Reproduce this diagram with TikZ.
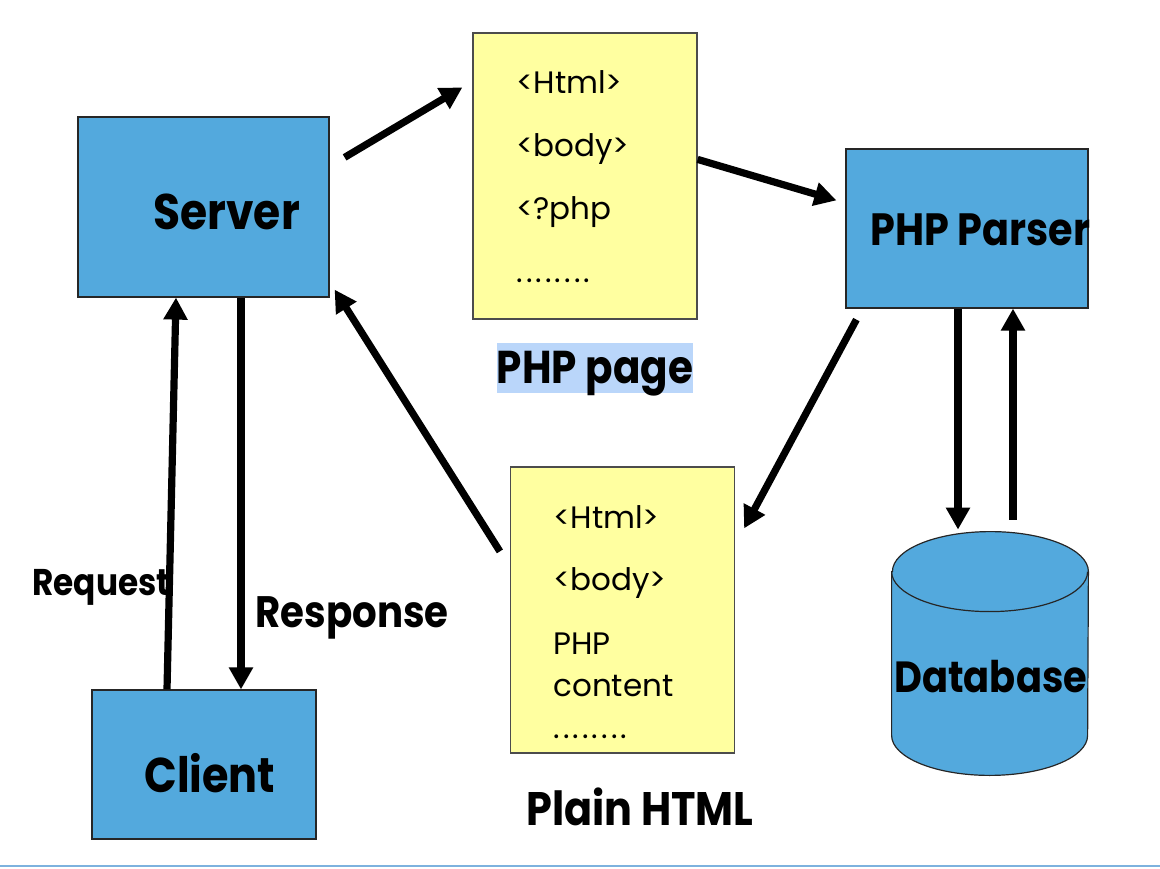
\documentclass[tikz,border=0pt]{standalone}
\usepackage{fontspec}
\setmainfont{Poppins}[BoldFeatures={FakeStretch=0.88}]
\usetikzlibrary{arrows.meta,positioning}
\definecolor{boxblue}{RGB}{83,169,221}
\definecolor{pageyellow}{RGB}{255,255,160}
\definecolor{markblue}{RGB}{186,214,250}
\definecolor{rulecolor}{RGB}{125,178,222}
\newcommand{\moredots}{{\addfontfeature{LetterSpace=10}........}}

\begin{document}
\begin{tikzpicture}[x=0.5pt,y=0.5pt,
		bluebox/.style={draw=black!85, line width=0.6pt, fill=boxblue, inner sep=0pt},
		pagebox/.style={draw=black!70, line width=0.6pt, fill=pageyellow, inner sep=0pt, minimum width=112pt, minimum height=143pt},
		bigtext/.style={font=\bfseries\fontsize{23.5}{28}\selectfont, inner sep=0pt},
		midtext/.style={font=\bfseries\fontsize{22}{26}\selectfont, inner sep=0pt},
		pagetext/.style={font=\fontsize{15.5}{21}\selectfont, align=left, inner sep=0pt},
		flow/.style={line width=3.6pt, -{Triangle[length=11pt,width=11.5pt]}}]
	\useasboundingbox (0,0) rectangle (1160,868);
	\draw [rulecolor, line width=1.2pt] (0,2) -- (1160,2);
	
	% boxes
	\node [bluebox, minimum width=125.5pt, minimum height=90pt] (srv) at (203.5,661) {};
	\node [bluebox, minimum width=112pt, minimum height=74.5pt] (cli) at (204,103.5) {};
	\node [bluebox, minimum width=121pt, minimum height=79.5pt] (parse) at (967,639.5) {};
	\node [pagebox] (src) at (585,692) {};
	\node [pagebox] (out) at (622.5,258) {};
	\node [inner sep=0pt, minimum width=98pt, minimum height=121.5pt] (db) at (990,214.5) {};
	\filldraw [draw=black!85, line width=0.6pt, fill=boxblue]
		([shift={(0,-40)}]db.north west) -- ([shift={(0,40)}]db.south west) arc (180:360:98 and 40)
		-- ([shift={(0,-40)}]db.north east) arc (0:180:98 and 40) -- cycle;
	\draw [black!85, line width=0.6pt] ([shift={(0,-40)}]db.north west) arc (180:360:98 and 40);
	
	% texts
	\node [bigtext, font=\bfseries\fontsize{25}{28}\selectfont, anchor=base west] (srvtxt) at (153,638) {Server};
	\node [bigtext, font=\bfseries\fontsize{24.4}{28}\selectfont, anchor=base west] (clitxt) at (144,76) {Client};
	\node [bigtext, font=\bfseries\fontsize{22.6}{28}\selectfont, anchor=base west] (parsetxt) at (870,622) {PHP Parser};
	\node [bigtext, font=\bfseries\fontsize{21.8}{28}\selectfont, anchor=base west] (dbtxt) at (894,176) {Database};
	\node [pagetext, font=\fontsize{15.5}{31.5}\selectfont, anchor=base west] (srclines) at (516,585) {<Html>\\<body>\\<?php\\\moredots};
	\node [pagetext, anchor=base west] (outlines) at (553,130) {<Html>\\[10pt]<body>\\[11pt]PHP\\content\\\moredots};
	\node [midtext, font=\bfseries\fontsize{23}{26}\selectfont, fill=markblue, text height=20.5pt, text depth=4.5pt, below=11.5pt of src, xshift=5pt] (srcname) {PHP page};
	\node [bigtext, below=17pt of out, xshift=8.75pt] (outname) {Plain HTML};
	\node [midtext, font=\bfseries\fontsize{18.6}{22}\selectfont, anchor=base west] (req) at (32,273) {Request};
	\node [midtext, anchor=base west] (resp) at (255,241) {Response};
	
	% arrows
	\draw [flow] ([shift={(15,-41)}]srv.north east) -- ([shift={(-10,-55)}]src.north west);
	\draw [flow] ([shift={(0,-127)}]src.north east) -- ([shift={(-9,-52)}]parse.north west);
	\draw [flow] ([shift={(11,-11)}]parse.south west) -- ([shift={(9,-62)}]out.north east);
	\draw [flow] ([shift={(-10,-85)}]out.north west) -- ([shift={(5,8)}]srv.south east);
	\draw [flow] ([shift={(-37,0)}]cli.north) -- ([shift={(-27.5,0)}]srv.south);
	\draw [flow] ([shift={(37.5,0)}]srv.south) -- ([shift={(37,0)}]cli.north);
	\draw [flow] ([shift={(-9,0)}]parse.south) -- ([shift={(-32,2)}]db.north);
	\draw [flow] ([shift={(23,12)}]db.north) -- ([shift={(46,0)}]parse.south);
\end{tikzpicture}
\end{document}
